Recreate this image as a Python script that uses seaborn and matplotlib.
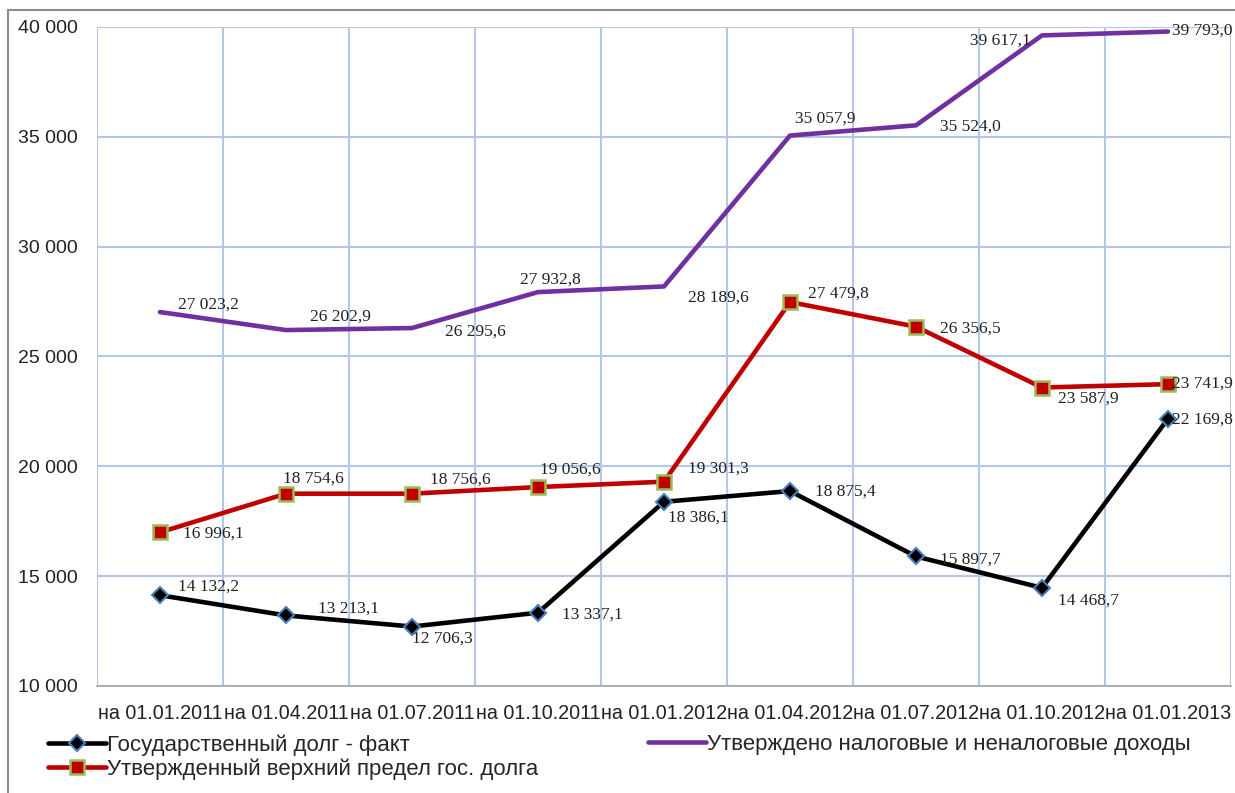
import numpy as np
import pandas as pd
import seaborn as sns
import matplotlib.pyplot as plt
from matplotlib.lines import Line2D
from matplotlib.patches import Rectangle

# даты
dates = ["на 01.01.2011", "на 01.04.2011", "на 01.07.2011", "на 01.10.2011",
         "на 01.01.2012", "на 01.04.2012", "на 01.07.2012", "на 01.10.2012",
         "на 01.01.2013"]
debt_fact = [14132.2, 13213.1, 12706.3, 13337.1, 18386.1, 18875.4, 15897.7, 14468.7, 22169.8]
debt_limit = [16996.1, 18754.6, 18756.6, 19056.6, 19301.3, 27479.8, 26356.5, 23587.9, 23741.9]
revenue = [27023.2, 26202.9, 26295.6, 27932.8, 28189.6, 35057.9, 35524.0, 39617.1, 39793.0]
names = ["Государственный долг - факт",
         "Утвержденный верхний предел гос. долга",
         "Утверждено налоговые и неналоговые доходы"]
y_ticks = [10000, 15000, 20000, 25000, 30000, 35000, 40000]

# смещения подписей (пиксели)
off_fact = [(18, 9), (32, 7), (0, -12), (24, -2), (4, -16), (25, -1), (24, -3), (16, -13), (4, -1)]
off_limit = [(23, -1), (-3, 15), (18, 14), (2, 17), (24, 13), (18, 8), (24, -2), (16, -11), (4, 0)]
off_rev = [(18, 7), (24, 13), (33, -4), (-18, 12), (24, -11), (5, 17), (24, -1), (-72, -5), (4, 1)]

sns.set_style("white")
plt.rcParams['font.family'] = ['Liberation Sans', 'DejaVu Sans']

fig = plt.figure(figsize=(12.35, 7.93), dpi=100)
ax = fig.add_axes([97/1235, 1-686/793, 1134/1235, 659/793])

x = np.arange(len(dates))
c_black, c_red, c_purple = "#000000", "#c00000", "#7030a0"

sns.lineplot(x=x, y=revenue, ax=ax, color=c_purple, linewidth=3.3, zorder=3)
sns.lineplot(x=x, y=debt_limit, ax=ax, color=c_red, linewidth=3.3, marker="s",
             markersize=10.5, markerfacecolor=c_red, markeredgecolor="#9bbb59",
             markeredgewidth=1.8, zorder=3)
sns.lineplot(x=x, y=debt_fact, ax=ax, color=c_black, linewidth=3.3, marker="D",
             markersize=8.5, markerfacecolor=c_black, markeredgecolor="#4a7ebb",
             markeredgewidth=1.5, zorder=4)

def fmt(v):
    return f"{v:,.1f}".replace(",", " ").replace(".", ",")

for vals, offs in [(debt_fact, off_fact), (debt_limit, off_limit), (revenue, off_rev)]:
    for i, (v, o) in enumerate(zip(vals, offs)):
        ax.annotate(fmt(v), (i, v), xytext=o, textcoords="offset pixels",
                    ha="left", va="center", fontsize=12.5,
                    family="Liberation Serif", color="#222222", zorder=5)

ax.set_xlim(-0.5, len(dates) - 0.5)
ax.set_ylim(10000, 40000)
ax.set_yticks(y_ticks)
ax.set_yticklabels([f"{t:,}".replace(",", " ") for t in y_ticks], fontsize=14)
ax.set_xticks(x)
ax.set_xticklabels(dates, fontsize=14.2)
ax.set_xticks(np.arange(-0.5, len(dates)), minor=True)
ax.tick_params(axis="both", length=0, pad=14, colors="#222222")
ax.tick_params(axis="x", pad=13)
ax.grid(False)
ax.grid(True, which="minor", axis="x", color="#b4c7e7", linewidth=1.5)
ax.grid(True, which="major", axis="y", color="#b4c7e7", linewidth=1.5)
for s in ["top", "right", "left"]:
    ax.spines[s].set_visible(False)
ax.spines["bottom"].set_color("#a6a6a6")
ax.spines["bottom"].set_linewidth(1.2)

h_fact = Line2D([], [], color=c_black, lw=3.3, marker="D", markersize=8.5,
                markerfacecolor=c_black, markeredgecolor="#4a7ebb", markeredgewidth=1.5)
h_limit = Line2D([], [], color=c_red, lw=3.3, marker="s", markersize=10.5,
                 markerfacecolor=c_red, markeredgecolor="#9bbb59", markeredgewidth=1.8)
h_rev = Line2D([], [], color=c_purple, lw=3.3)

leg_kw = dict(frameon=False, loc="upper left", fontsize=16, handlelength=2.6,
              handletextpad=0.05, labelspacing=0.12, borderaxespad=0, borderpad=0)
fig.legend([h_fact, h_limit], names[:2], bbox_to_anchor=(48/1235, 1-734/793), **leg_kw)
fig.legend([h_rev], names[2:], bbox_to_anchor=(648/1235, 1-734/793), **leg_kw)

fig.patches.append(Rectangle((8/1235, -0.1), 1.2, 1-10/793 + 0.1,
                             transform=fig.transFigure, fill=False,
                             edgecolor="#8c8c8c", linewidth=1.5))

fig.savefig("out.png", dpi=100)
